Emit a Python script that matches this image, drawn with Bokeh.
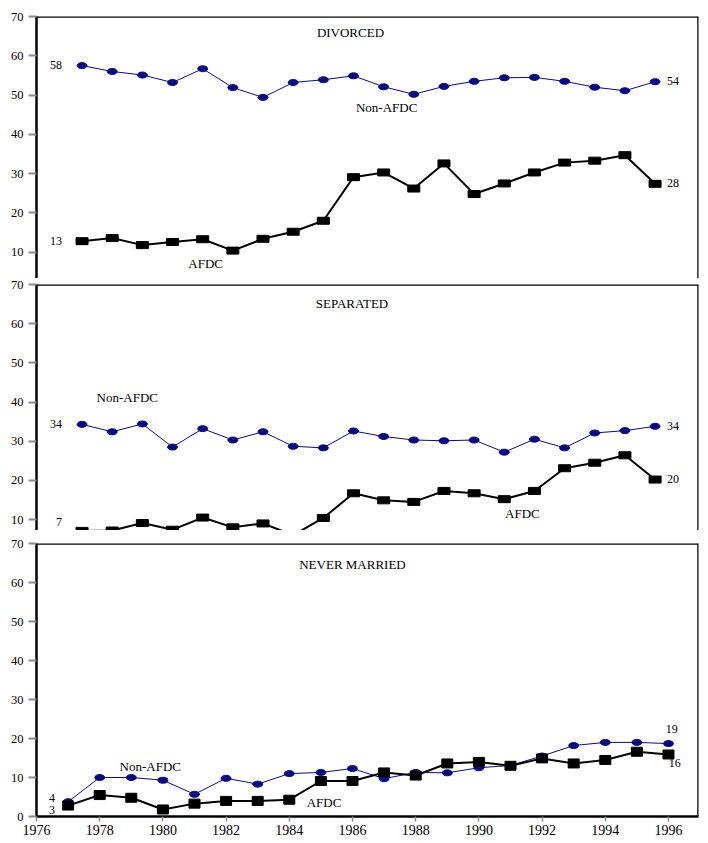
from bokeh.plotting import figure
from bokeh.models import Range1d, FixedTicker, Span
from bokeh.layouts import column
from bokeh.embed import file_html
from bokeh.resources import INLINE
from bokeh.core.properties import value

years = list(range(1977, 1997))

divorced_non_afdc = [57.5, 56.0, 55.1, 53.2, 56.7, 51.9, 49.4, 53.2, 53.9, 54.9,
                     52.1, 50.2, 52.2, 53.5, 54.4, 54.5, 53.5, 52.0, 51.1, 53.4]
divorced_afdc = [12.8, 13.6, 11.8, 12.6, 13.3, 10.4, 13.4, 15.2, 18.0, 29.1,
                 30.3, 26.2, 32.6, 24.8, 27.5, 30.3, 32.8, 33.3, 34.7, 27.4]

separated_non_afdc = [34.3, 32.4, 34.4, 28.5, 33.2, 30.3, 32.4, 28.7, 28.3, 32.6,
                      31.2, 30.3, 30.1, 30.3, 27.2, 30.5, 28.3, 32.1, 32.7, 33.8]
separated_afdc = [7.1, 7.2, 9.1, 7.4, 10.5, 8.0, 9.0, 6.0, 10.4, 16.7,
                  14.9, 14.5, 17.3, 16.7, 15.2, 17.3, 23.1, 24.5, 26.4, 20.2]

never_non_afdc = [3.8, 10.0, 10.0, 9.3, 5.7, 9.8, 8.3, 11.0, 11.3, 12.3,
                  9.7, 11.3, 11.2, 12.5, 13.1, 15.5, 18.2, 19.0, 19.0, 18.7]
never_afdc = [2.8, 5.5, 4.8, 1.8, 3.3, 4.0, 4.0, 4.3, 9.1, 9.1,
              11.3, 10.5, 13.6, 14.0, 13.0, 14.9, 13.6, 14.5, 16.6, 15.9]

y_ticks_upper = [10, 20, 30, 40, 50, 60, 70]
y_ticks_lower = [0, 10, 20, 30, 40, 50, 60, 70]
x_ticks = [1976, 1978, 1980, 1982, 1984, 1986, 1988, 1990, 1992, 1994, 1996]

divorced_end_labels = ["58", "54", "13", "28"]
separated_end_labels = ["34", "34", "7", "20"]
never_end_labels = ["4", "3", "19", "16"]

FONT = value("Liberation Serif")
NAVY = "#0a0a80"


def make_panel(height, top_border, bottom_border, y_start, x_rng, y_ticks,
               non, afdc, show_x, rect_w, rect_h):
    p = figure(width=702, height=height,
               x_range=Range1d(x_rng[0], x_rng[1]),
               y_range=Range1d(y_start, 70),
               output_backend="svg", toolbar_location=None,
               x_axis_location="below" if show_x else None,
               min_border_left=36, min_border_right=4,
               min_border_top=top_border,
               min_border_bottom=bottom_border)
    p.outline_line_color = None
    p.xgrid.visible = False
    p.ygrid.visible = False
    p.background_fill_color = "white"
    p.border_fill_color = "white"

    yax = p.yaxis[0]
    yax.ticker = FixedTicker(ticks=y_ticks)
    yax.axis_line_color = "black"
    yax.axis_line_width = 2.5
    yax.major_tick_line_color = "#8a8a8a"
    yax.major_tick_line_width = 2
    yax.major_tick_out = 8
    yax.major_tick_in = 0
    yax.minor_tick_line_color = None
    yax.major_label_text_font = "Liberation Serif"
    yax.major_label_text_font_size = "12.5px"
    yax.major_label_text_color = "black"
    yax.major_label_standoff = 5

    if show_x:
        xax = p.xaxis[0]
        xax.ticker = FixedTicker(ticks=x_ticks)
        xax.axis_line_color = "black"
        xax.axis_line_width = 2.5
        xax.major_tick_line_color = "#8a8a8a"
        xax.major_tick_line_width = 1.5
        xax.major_tick_out = 5
        xax.major_tick_in = 0
        xax.minor_tick_line_color = None
        xax.major_label_text_font = "Liberation Serif"
        xax.major_label_text_font_size = "14px"
        xax.major_label_text_color = "black"
        xax.major_label_standoff = 3

    p.add_layout(Span(location=70, dimension="width", line_color="black",
                      line_width=2.5))
    p.add_layout(Span(location=x_rng[1], dimension="height",
                      line_color="black", line_width=2.5))

    p.line(years, non, line_color=NAVY, line_width=1)
    p.ellipse(years, non, width=10, height=6, width_units="screen",
              height_units="screen", fill_color=NAVY, line_color=NAVY)
    p.line(years, afdc, line_color="black", line_width=2)
    p.rect(years, afdc, width=rect_w, height=rect_h, width_units="screen",
           height_units="screen", fill_color="black", line_color="black")
    return p


def add_text(p, x, y, t, size="13px", align="center", x_off=0):
    p.text(x=[x], y=[y], text=[t], text_font=FONT, text_font_size=size,
           text_align=align, text_baseline="middle", text_color="black",
           x_offset=x_off)


upper_x = (1975.49, 1997.44)
lower_x = (1976, 1996.95)

# DIVORCED
p1 = make_panel(278, 16, 0, 3.3, upper_x, y_ticks_upper,
                divorced_non_afdc, divorced_afdc, False, 12, 7)
add_text(p1, 1985.9, 65.9, "DIVORCED")
add_text(p1, 1987.1, 46.8, "Non-AFDC")
add_text(p1, 1981.1, 7.1, "AFDC")
add_text(p1, years[0], 57.6, divorced_end_labels[0], "12px", "right", -20)
add_text(p1, years[-1], 53.6, divorced_end_labels[1], "12px", "left", 12)
add_text(p1, years[0], 12.9, divorced_end_labels[2], "12px", "right", -20)
add_text(p1, years[-1], 27.6, divorced_end_labels[3], "12px", "left", 12)

# SEPARATED
p2 = make_panel(252, 6, 0, 7.2, upper_x, y_ticks_upper,
                separated_non_afdc, separated_afdc, False, 12, 7)
add_text(p2, 1985.95, 65.2, "SEPARATED")
add_text(p2, 1978.5, 41.2, "Non-AFDC")
add_text(p2, 1991.6, 11.5, "AFDC")
add_text(p2, years[0], 34.4, separated_end_labels[0], "12px", "right", -20)
add_text(p2, years[-1], 33.9, separated_end_labels[1], "12px", "left", 12)
add_text(p2, years[0], 9.3, separated_end_labels[2], "12px", "right", -20)
add_text(p2, years[-1], 20.3, separated_end_labels[3], "12px", "left", 12)

# NEVER MARRIED
p3 = make_panel(313, 13, 27, 0, lower_x, y_ticks_lower,
                never_non_afdc, never_afdc, True, 11, 9)
add_text(p3, 1986.0, 64.7, "NEVER MARRIED")
add_text(p3, 1979.6, 12.8, "Non-AFDC")
add_text(p3, 1985.1, 3.6, "AFDC")
add_text(p3, years[0], 4.8, never_end_labels[0], "12px", "right", -13)
add_text(p3, years[0], 1.6, never_end_labels[1], "12px", "right", -13)
add_text(p3, 1996.1, 22.5, never_end_labels[2], "12px", "center")
add_text(p3, 1996.2, 13.8, never_end_labels[3], "12px", "center")

layout = column(p1, p2, p3, spacing=0)

open("out.html", "w").write(file_html(layout, INLINE))
